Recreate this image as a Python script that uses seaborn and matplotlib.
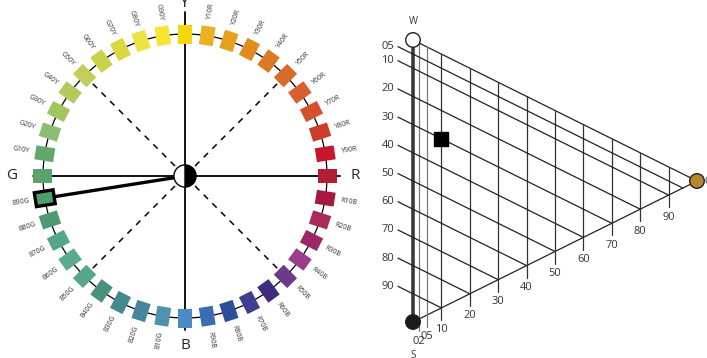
import numpy as np
import pandas as pd
import matplotlib.pyplot as plt
import seaborn as sns
from matplotlib.patches import Rectangle, Wedge

# NCS hue circle, clockwise from Y
hue_names = ['Y', 'Y10R', 'Y20R', 'Y30R', 'Y40R', 'Y50R', 'Y60R', 'Y70R', 'Y80R', 'Y90R',
             'R', 'R10B', 'R20B', 'R30B', 'R40B', 'R50B', 'R60B', 'R70B', 'R80B', 'R90B',
             'B', 'B10G', 'B20G', 'B30G', 'B40G', 'B50G', 'B60G', 'B70G', 'B80G', 'B90G',
             'G', 'G10Y', 'G20Y', 'G30Y', 'G40Y', 'G50Y', 'G60Y', 'G70Y', 'G80Y', 'G90Y']
hue_colors = ['#f5d70f', '#eab21e', '#e6a11f', '#e08c1f', '#db7a22', '#d96a28', '#d9602c', '#d5512d', '#cc3b2b', '#c8162a',
              '#b21c34', '#a5193f', '#a82b5c', '#9e2668', '#993d8f', '#6c3a88', '#3f2c7c', '#3d3f90', '#2c4f9a', '#3a6db2',
              '#4b8bc6', '#4e93ab', '#44879a', '#438a8d', '#4a9080', '#56a68a', '#5aaa90', '#56a68c', '#4e9a72', '#4f9c6c',
              '#5aa36b', '#62a86a', '#8bbd72', '#a3c55e', '#b5ca5c', '#c3cd5a', '#cbd24a', '#d9d83c', '#ede341', '#f5e636']
highlight_hue = 'B90G'
elementary = ['Y', 'R', 'B', 'G']

# NCS triangle
chroma_ticks = [2, 5, 10, 20, 30, 40, 50, 60, 70, 80, 90]
chroma_labels = ['02', '05', '10', '20', '30', '40', '50', '60', '70', '80', '90']
black_ticks = [5, 10, 20, 30, 40, 50, 60, 70, 80, 90]
black_labels = ['05', '10', '20', '30', '40', '50', '60', '70', '80', '90']
node_names = ['W', 'S', 'C']
node_c = [0, 0, 100]
node_s = [0, 100, 0]
node_colors = ['white', '#1a1a1a', '#b8862e']
sample_c, sample_s = 10, 30

sns.set_theme(style='white')
plt.rcParams['font.family'] = ['Open Sans', 'DejaVu Sans']

fig = plt.figure(figsize=(7.07, 3.58), dpi=100)

# ---- left: hue circle ----
axL = fig.add_axes([0, 0, 360 / 707, 1])
axL.set_xlim(-185 / 142, 175 / 142)
axL.set_ylim(-182 / 142, 176 / 142)
axL.axis('off')

t = np.linspace(0, 2 * np.pi, 400)
axL.plot(np.cos(t), np.sin(t), color='black', lw=0.9, zorder=1)
axL.plot([-1.07, 1.09], [0, 0], color='black', lw=1.3, zorder=1)
axL.plot([0, 0], [-1.085, 1.155], color='black', lw=1.3, zorder=1)
for a in [45, 135, 225, 315]:
    r = np.deg2rad(a)
    axL.plot([0.1 * np.cos(r), 0.93 * np.cos(r)], [0.1 * np.sin(r), 0.93 * np.sin(r)],
             color='black', lw=1.1, ls=(0, (4, 4)), zorder=1)

angles = 90 - 9 * np.arange(len(hue_names))
w, h = 19 / 142, 14 / 142
for name, col, deg in zip(hue_names, hue_colors, angles):
    th = np.deg2rad(deg)
    cx, cy = np.cos(th), np.sin(th)
    if name == highlight_hue:
        axL.plot([0, 0.94 * cx], [0, 0.94 * cy], color='black', lw=2.4, zorder=2)
        rect = Rectangle((cx - w / 2, cy - h / 2), w, h, angle=deg, rotation_point='center',
                         facecolor=col, edgecolor='black', lw=2.4, zorder=3)
    else:
        rect = Rectangle((cx - w / 2, cy - h / 2), w, h, angle=deg, rotation_point='center',
                         facecolor=col, edgecolor='none', zorder=3)
    axL.add_patch(rect)
    if name in elementary:
        continue
    rot = deg if np.cos(th) >= 0 else deg + 180
    rot = (rot + 180) % 360 - 180
    axL.text(1.168 * cx, 1.168 * cy, name, fontsize=5, rotation=rot, rotation_mode='anchor',
             ha='center', va='center', color='#333333')

axL.text(0, 1.215, 'Y', fontsize=12, ha='center', va='center')
axL.text(1.197, 0, 'R', fontsize=11, ha='center', va='center')
axL.text(0, -1.197, 'B', fontsize=11, ha='center', va='center')
axL.text(-1.218, 0, 'G', fontsize=11, ha='center', va='center')

axL.add_patch(Wedge((0, 0), 0.078, -90, 90, facecolor='black', edgecolor='black', lw=1, zorder=5))
axL.add_patch(Wedge((0, 0), 0.078, 90, 270, facecolor='white', edgecolor='black', lw=1, zorder=5))

# ---- right: NCS triangle ----
axR = fig.add_axes([360 / 707, 0, 347 / 707, 1])
axR.set_xlim((360 - 413) / 2.84, (707 - 413) / 2.84)
axR.set_ylim((358 - 40) / 2.82, (0 - 40) / 2.82)
axR.axis('off')


def ty(c, s):
    return s + 0.5 * c


axR.plot([0, 0], [0, 100], color='#3a3a3a', lw=2.6, zorder=2)
axR.plot([0, 100], [ty(0, 0), ty(100, 0)], color='#222222', lw=0.9)
axR.plot([0, 100], [ty(0, 100), ty(100, 0)], color='#222222', lw=0.9)
for c, lab in zip(chroma_ticks, chroma_labels):
    col = '#7a7a7a' if c < 10 else '#333333'
    axR.plot([c, c], [ty(c, 0), ty(c, 100 - c) + 4.3], color=col, lw=0.9)
    axR.text(c, ty(c, 100 - c) + 7.8, lab, fontsize=8, ha='center', va='center', color='#333333')
c0 = -5.3
for s, lab in zip(black_ticks, black_labels):
    axR.plot([c0, 100 - s], [ty(c0, s), ty(100 - s, s)], color='#222222', lw=0.9)
    axR.text(c0 - 1.3, ty(c0, s), lab, fontsize=8, ha='right', va='center', color='#333333')

nodes = pd.DataFrame({'name': node_names, 'c': node_c,
                      'y': [ty(c, s) for c, s in zip(node_c, node_s)]})
sns.scatterplot(data=nodes, x='c', y='y', hue='name', palette=dict(zip(node_names, node_colors)),
                s=110, edgecolor='#222222', linewidth=1, legend=False, ax=axR, zorder=6)
axR.scatter([sample_c], [ty(sample_c, sample_s)], marker='s', s=90, color='black', zorder=6)

axR.text(0, -6.4, 'W', fontsize=7, ha='center', va='center', color='#333333')
axR.text(0, 110, 'S', fontsize=7, ha='center', va='top', color='#333333')
axR.text(102.6, 50, 'C', fontsize=7, ha='left', va='center', color='#333333')

fig.savefig('out.png', dpi=100)
